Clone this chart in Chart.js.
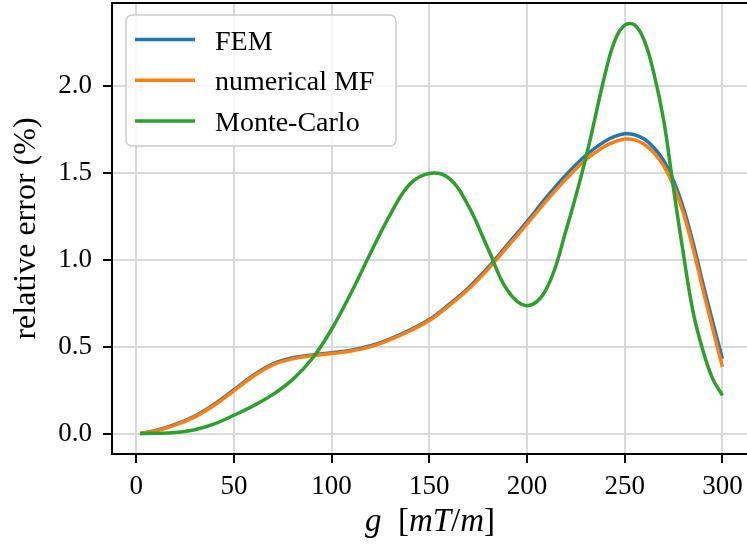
<!DOCTYPE html>
<html>
<head>
<meta charset="utf-8">
<script src="https://cdn.jsdelivr.net/npm/chart.js@4.4.1/dist/chart.umd.min.js"></script>
<style>
html, body { margin: 0; padding: 0; background: #fff; }
#wrap { width: 747px; height: 548px; }
</style>
</head>
<body>
<div id="wrap"><canvas id="errorChart"></canvas></div>
<script>
// gradient strength g in mT/m
var g = [2, 10, 20, 30, 40, 50, 60, 70, 80, 90, 100, 110, 120, 130, 140, 150, 160, 170, 180, 190,
         200, 210, 220, 230, 240, 245, 250, 255, 260, 265, 270, 275, 280, 285, 290, 295, 300];

// relative error (%)
var fem = [0, 0.017, 0.052, 0.101, 0.169, 0.252, 0.336, 0.401, 0.436, 0.452, 0.465, 0.48, 0.505, 0.545,
           0.596, 0.656, 0.742, 0.838, 0.955, 1.087, 1.22, 1.36, 1.488, 1.6, 1.683, 1.71, 1.725, 1.72,
           1.695, 1.645, 1.57, 1.455, 1.3, 1.098, 0.865, 0.645, 0.43];
var numericalMF = [0, 0.015, 0.048, 0.096, 0.163, 0.245, 0.33, 0.395, 0.43, 0.447, 0.46, 0.475, 0.5,
                   0.54, 0.59, 0.65, 0.735, 0.83, 0.945, 1.075, 1.205, 1.34, 1.465, 1.575, 1.655, 1.68,
                   1.695, 1.69, 1.665, 1.615, 1.54, 1.425, 1.27, 1.065, 0.83, 0.605, 0.383];
var monteCarlo = [0, 0.001, 0.006, 0.022, 0.055, 0.105, 0.16, 0.225, 0.31, 0.43, 0.6, 0.81, 1.04, 1.26,
                  1.435, 1.497, 1.47, 1.31, 1.065, 0.824, 0.736, 0.834, 1.17, 1.582, 2.07, 2.263, 2.35, 2.352,
                  2.263, 2.07, 1.8, 1.41, 1.037, 0.7, 0.479, 0.316, 0.22];

var seriesNames = ['FEM', 'numerical MF', 'Monte-Carlo'];
var seriesColors = ['#1f77b4', '#ff7f0e', '#2ca02c'];
var xTicks = [0, 50, 100, 150, 200, 250, 300];
var yTicks = [0, 0.5, 1, 1.5, 2];

var serif = "'Liberation Serif', 'Times New Roman', serif";

function pts(ys) {
    return g.map(function (x, i) { return { x: x, y: ys[i] }; });
}

var datasets = [fem, numericalMF, monteCarlo].map(function (ys, i) {
    return {
        label: seriesNames[i],
        data: pts(ys),
        borderColor: seriesColors[i],
        backgroundColor: seriesColors[i],
        borderWidth: 3.5,
        pointRadius: 0,
        tension: 0.4,
        fill: false,
        order: 3 - i
    };
});

// legend box, top spine and the mixed-style x title
var framePlugin = {
    id: 'frame',
    afterDatasetsDraw: function (chart) {
        var c = chart.ctx;
        c.save();
        var x0 = 126, y0 = 15, w = 270, h = 131, r = 6;
        c.beginPath();
        c.moveTo(x0 + r, y0);
        c.arcTo(x0 + w, y0, x0 + w, y0 + h, r);
        c.arcTo(x0 + w, y0 + h, x0, y0 + h, r);
        c.arcTo(x0, y0 + h, x0, y0, r);
        c.arcTo(x0, y0, x0 + w, y0, r);
        c.closePath();
        c.fillStyle = 'rgba(255,255,255,0.8)';
        c.fill();
        c.strokeStyle = '#cccccc';
        c.lineWidth = 1.5;
        c.stroke();
        c.font = '28px ' + serif;
        c.textBaseline = 'alphabetic';
        c.fillStyle = '#000';
        chart.data.datasets.forEach(function (ds, i) {
            var yy = 39.5 + i * 40.7;
            c.beginPath();
            c.moveTo(135, yy);
            c.lineTo(195, yy);
            c.strokeStyle = ds.borderColor;
            c.lineWidth = 3.5;
            c.stroke();
            c.fillText(ds.label, 215, yy + 10);
        });
        c.restore();
    },
    afterDraw: function (chart) {
        var c = chart.ctx;
        var a = chart.chartArea;
        c.save();
        c.beginPath();
        c.moveTo(a.left - 1, a.top);
        c.lineTo(a.right, a.top);
        c.strokeStyle = '#000';
        c.lineWidth = 2;
        c.stroke();

        var parts = [['g', 'italic'], ['  [', 'normal'], ['mT', 'italic'], ['/', 'normal'], ['m', 'italic'], [']', 'normal']];
        var total = 0;
        parts.forEach(function (p) {
            c.font = p[1] + ' 33px ' + serif;
            p.push(c.measureText(p[0]).width);
            total += p[2];
        });
        var x = 430 - total / 2;
        c.fillStyle = '#000';
        c.textBaseline = 'alphabetic';
        parts.forEach(function (p) {
            c.font = p[1] + ' 33px ' + serif;
            c.fillText(p[0], x, 531);
            x += p[2];
        });
        c.restore();
    }
};

var ctx = document.getElementById('errorChart').getContext('2d');
var errorChart = new Chart(ctx, {
    type: 'line',
    data: { datasets: datasets },
    options: {
        responsive: true,
        maintainAspectRatio: false,
        animation: false,
        devicePixelRatio: 1,
        layout: { padding: { top: 3, right: 0, left: 0, bottom: 0 } },
        plugins: {
            legend: { display: false },
            tooltip: { enabled: false }
        },
        scales: {
            x: {
                type: 'linear',
                min: -12.4,
                max: 312.6,
                afterFit: function (s) {
                    s.height = 94;
                    s.paddingLeft = 0;
                    s.paddingRight = 0;
                },
                afterBuildTicks: function (s) { s.ticks = xTicks.map(function (v) { return { value: v }; }); },
                grid: { color: '#d9d9d9', lineWidth: 2, tickColor: '#000', tickLength: 9, tickWidth: 2 },
                border: { display: true, color: '#000', width: 2 },
                ticks: {
                    color: '#000',
                    padding: 8,
                    maxRotation: 0,
                    font: { family: serif, size: 27 },
                    callback: function (v) { return String(v); }
                }
            },
            y: {
                min: -0.118,
                max: 2.478,
                afterFit: function (s) {
                    s.width = 112;
                    s.paddingTop = 0;
                    s.paddingBottom = 0;
                },
                afterBuildTicks: function (s) { s.ticks = yTicks.map(function (v) { return { value: v }; }); },
                grid: { color: '#d9d9d9', lineWidth: 2, tickColor: '#000', tickLength: 9, tickWidth: 2 },
                border: { display: true, color: '#000', width: 2 },
                ticks: {
                    color: '#000',
                    padding: 11,
                    font: { family: serif, size: 27 },
                    callback: function (v) { return v.toFixed(1); }
                },
                title: {
                    display: true,
                    text: 'relative error (%)',
                    color: '#000',
                    padding: { top: 7, bottom: 0 },
                    font: { family: serif, size: 32 }
                }
            }
        }
    },
    plugins: [framePlugin]
});
</script>
</body>
</html>
